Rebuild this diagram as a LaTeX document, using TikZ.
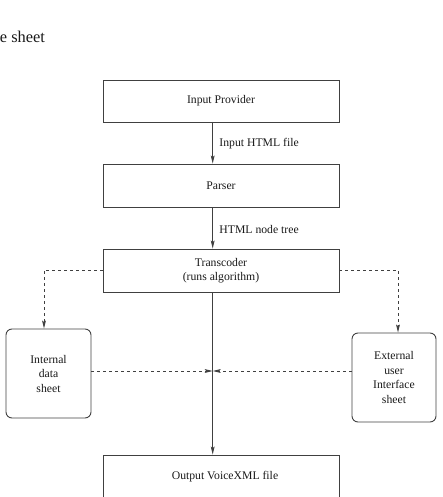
\documentclass[tikz,border=0pt]{standalone}
\usepackage{fontspec}
\setmainfont{Liberation Serif}
\usetikzlibrary{arrows.meta}
\begin{document}
\begin{tikzpicture}[x=1pt,y=-1pt,
  line width=0.9pt,
  every node/.style={font=\fontsize{11.7}{14.5}\selectfont, text=black!90},
  box/.style={draw=black!75, rectangle, inner sep=0pt},
  rbox/.style={draw=black!75, rectangle, rounded corners=6pt, inner sep=0pt, align=center},
  flow/.style={draw=black!75, -{Stealth[length=8pt,width=3.8pt,inset=1.5pt]}},
  dflow/.style={flow, dash pattern=on 3pt off 3pt},
  lbl/.style={anchor=west, inner sep=0pt}]
\useasboundingbox (0,0) rectangle (443,497);
\node[anchor=base west, inner sep=0pt, font=\fontsize{16.4}{19}\selectfont] (title) at (-0.5,43) {e sheet};
\node[box, minimum width=236pt, minimum height=42pt] (ip) at (221,101) {};
\node at (221,101) {Input Provider};
\node[box, minimum width=236pt, minimum height=43pt] (pa) at (221,185.5) {};
\node at (221,185.5) {Parser};
\node[box, minimum width=236pt, minimum height=43pt, align=center] (tr) at (221,270.5) {Transcoder\\(runs algorithm)};
\node[box, minimum width=236pt, minimum height=60pt] (out) at (221,485) {};
\node at (225,477) {Output VoiceXML file};
\node[rbox, minimum width=85pt, minimum height=89pt] (int) at (48.5,373.5) {Internal\\data\\sheet};
\node[rbox, minimum width=84pt, minimum height=89pt] (ext) at (394,377.5) {External\\user\\Interface\\sheet};
\coordinate (tx1) at (212.7,122);
\coordinate (tx2) at (212.7,207);
\coordinate (tx3) at (212.7,292);
\coordinate (mid) at (212.7,371);
\draw[flow] (tx1) -- (tx2 |- pa.north);
\draw[flow] (tx2) -- (tx3 |- tr.north);
\draw[flow] (tx3) -- (tx3 |- out.north);
\node[lbl] (l1) at (219,144) {Input HTML file};
\node[lbl] (l2) at (219,229) {HTML node tree};
\draw[dflow] (tr.west |- 0,270) -| (int.north -| 44,0);
\draw[dflow] (tr.east |- 0,270) -| (ext.north -| 398,0);
\draw[dflow] (int.east |- mid) -- (mid);
\draw[dflow] (ext.west |- mid) -- (mid);
\end{tikzpicture}
\end{document}
